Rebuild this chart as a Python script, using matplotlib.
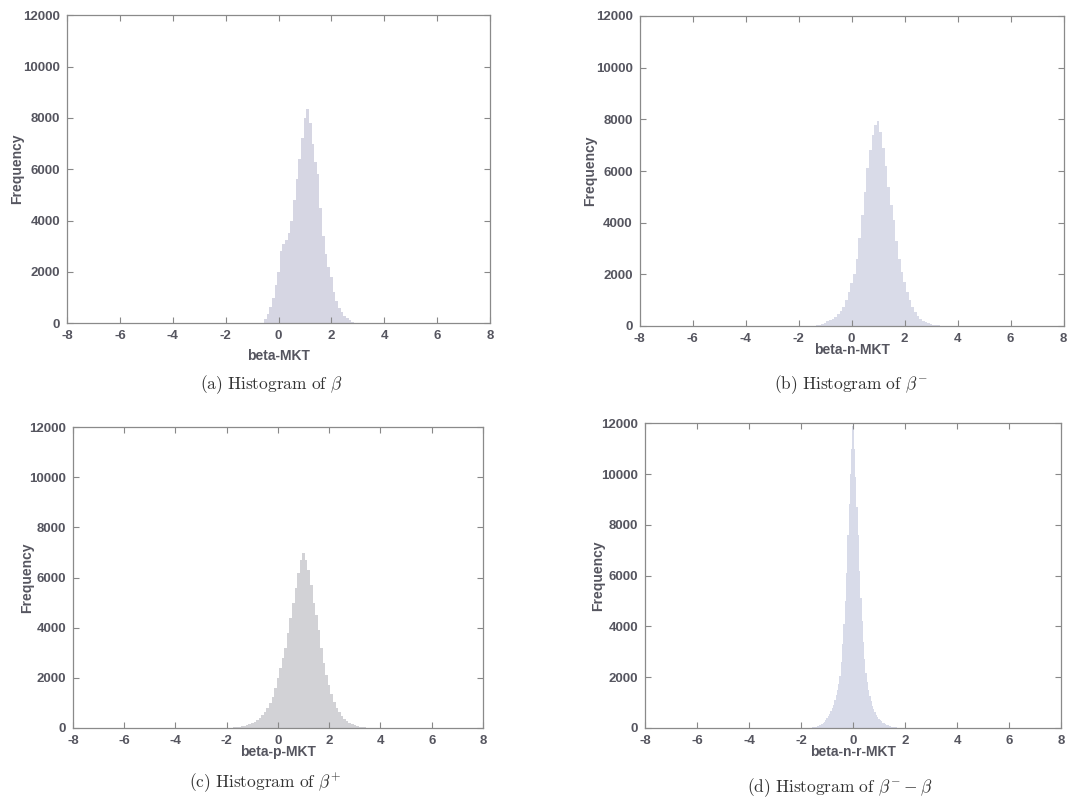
import matplotlib
matplotlib.use("Agg")
import matplotlib.pyplot as plt
import numpy as np

plt.rcParams['font.family'] = ['Liberation Sans', 'DejaVu Sans']
plt.rcParams['mathtext.fontset'] = 'cm'
plt.rcParams['axes.unicode_minus'] = False

# Counts (bin starts, bin width, counts)
beta_start, beta_width = -0.65, 0.1
beta_counts = [0, 150, 350, 650, 1000, 1500, 2000, 2800, 3100, 3250, 3500,
               4000, 4800, 5600, 6400, 7200, 8000, 8350, 7800, 7000, 6300,
               5800, 4500, 3400, 2700, 2200, 1800, 1200, 850, 600, 420, 300,
               200, 120, 60, 20]

beta_n_start, beta_n_width = -1.35, 0.1
beta_n_counts = [20, 40, 80, 130, 180, 230, 290, 360, 450, 580, 750, 1000,
                 1300, 1650, 2000, 2600, 3400, 4300, 5200, 6100, 6800, 7400,
                 7800, 7950, 7500, 6900, 6200, 5400, 4700, 4100, 3300, 2600,
                 2100, 1700, 1300, 1000, 750, 550, 380, 270, 190, 140, 100,
                 70, 50, 35, 20, 10]

beta_p_start, beta_p_width = -1.85, 0.1
beta_p_counts = [10, 25, 40, 55, 70, 90, 110, 140, 190, 250, 320, 400, 500,
                 640, 800, 1000, 1250, 1600, 2000, 2400, 2800, 3200, 3800,
                 4400, 5000, 5600, 6200, 6700, 7000, 6700, 6300, 5700, 5000,
                 4500, 3900, 3200, 2600, 2100, 1700, 1350, 1050, 800, 620,
                 480, 370, 280, 200, 150, 110, 80, 55, 35, 20, 10]

beta_nr_start, beta_nr_width = -1.725, 0.05
beta_nr_counts = [5, 10, 15, 20, 30, 40, 50, 70, 100, 130, 160, 200, 250, 310,
                  380, 470, 560, 660, 770, 900, 1100, 1300, 1500, 1750, 2050,
                  2600, 3300, 4100, 5000, 6100, 7600, 8800, 10000, 11000,
                  11900, 11000, 9900, 8700, 7600, 6200, 5100, 4200, 3400, 2700,
                  2150, 1800, 1500, 1250, 1050, 880, 740, 620, 520, 440, 370,
                  310, 260, 215, 180, 150, 125, 100, 80, 65, 50, 40, 30, 22,
                  15, 10, 6, 4, 2]

x_ticks = [-8, -6, -4, -2, 0, 2, 4, 6, 8]
y_ticks = [0, 2000, 4000, 6000, 8000, 10000, 12000]

panels = [
    # data, axes rect, fill colour, xlabel, xlabel y, ylabel x, caption, caption xy
    (beta_start, beta_width, beta_counts, [0.0617, 0.596, 0.3895, 0.385], '#d6d6e3',
     'beta-MKT', -0.107, -0.118, r'$\mathrm{(a)\ Histogram\ of}\ \beta$', (0.250, 0.519)),
    (beta_n_start, beta_n_width, beta_n_counts, [0.589, 0.5925, 0.3904, 0.3875], '#d9dbe8',
     'beta-n-MKT', -0.077, -0.116, r'$\mathrm{(b)\ Histogram\ of}\ \beta^{-}$', (0.783, 0.519)),
    (beta_p_start, beta_p_width, beta_p_counts, [0.0672, 0.09, 0.3775, 0.376], '#d2d2d6',
     'beta-p-MKT', -0.08, -0.112, r'$\mathrm{(c)\ Histogram\ of}\ \beta^{+}$', (0.244, 0.021)),
    (beta_nr_start, beta_nr_width, beta_nr_counts, [0.594, 0.09, 0.383, 0.381], '#d8dbe9',
     'beta-n-r-MKT', -0.078, -0.113, r'$\mathrm{(d)\ Histogram\ of}\ \beta^{-}-\beta$', (0.773, 0.015)),
]

fig = plt.figure(figsize=(10.86, 8), dpi=100)

for start, width, counts, rect, color, xlab, xlab_y, ylab_x, caption, cap_xy in panels:
    ax = fig.add_axes(rect)
    edges = start + width * np.arange(len(counts) + 1)
    ax.stairs(counts, edges, fill=True, color=color, linewidth=0)

    ax.set_xlim(-8, 8)
    ax.set_ylim(0, 12000)
    ax.set_xticks(x_ticks)
    ax.set_yticks(y_ticks)
    ax.tick_params(direction='in', top=True, right=True, length=4, width=0.8,
                   color='#888888', labelsize=9.5, labelcolor='#55555f', pad=5)
    for lbl in ax.get_xticklabels() + ax.get_yticklabels():
        lbl.set_fontweight('bold')
    for sp in ax.spines.values():
        sp.set_color('#8a8a8a')
        sp.set_linewidth(0.9)

    ax.set_xlabel(xlab, fontsize=10, fontweight='bold', color='#55555f')
    ax.xaxis.set_label_coords(0.5, xlab_y)
    ax.xaxis.label.set_va('center')
    ax.set_ylabel('Frequency', fontsize=10, fontweight='bold', color='#55555f')
    ax.yaxis.set_label_coords(ylab_x, 0.5)
    ax.yaxis.label.set_va('center')

    fig.text(cap_xy[0], cap_xy[1], caption, ha='center', va='center',
             fontsize=12.5, color='#333333')

fig.savefig('out.png', dpi=100, facecolor='white')
